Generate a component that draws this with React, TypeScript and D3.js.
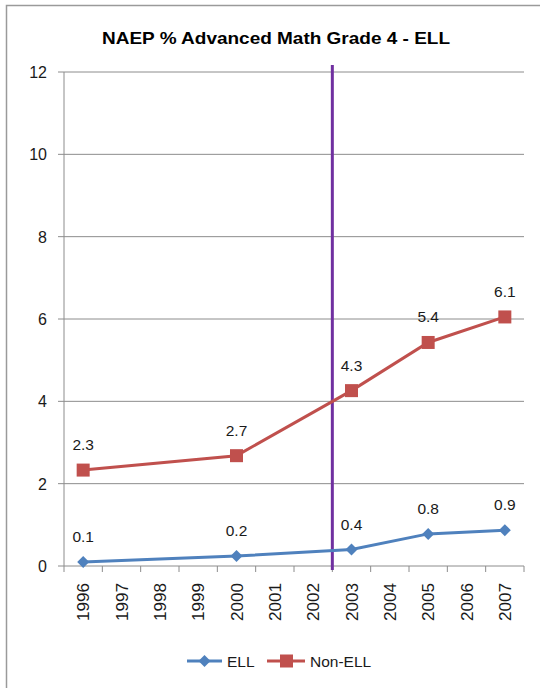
import React from "react";
import * as d3 from "d3";

const years = ["1996","1997","1998","1999","2000","2001","2002","2003","2004","2005","2006","2007"];
const ellYears = ["1996","2000","2003","2005","2007"];
const ellValues = [0.1, 0.24, 0.4, 0.78, 0.87];
const nonEllValues = [2.33, 2.68, 4.26, 5.43, 6.05];
const ellLabels = ["0.1", "0.2", "0.4", "0.8", "0.9"];
const nonEllLabels = ["2.3", "2.7", "4.3", "5.4", "6.1"];
const yTicks = [0, 2, 4, 6, 8, 10, 12];
const title = "NAEP % Advanced Math Grade 4 - ELL";
const markerYearBoundary = "2003";

const W = 540, H = 688;
const left = 64, right = 524, top = 72, bottom = 566;
const font = "'Liberation Sans', Arial, sans-serif";
const ellColor = "#4F81BD";
const nonColor = "#C0504D";
const textColor = "#1a1a1a";

export default function App() {
  const x = d3.scaleBand<string>().domain(years).range([left, right]);
  const y = d3.scaleLinear().domain([0, 12]).range([bottom, top]);
  const cx = (yr: string) => (x(yr) as number) + x.bandwidth() / 2;
  const line = d3.line<[string, number]>().x(d => cx(d[0])).y(d => y(d[1]));
  const ellData: [string, number][] = ellYears.map((yr, i) => [yr, ellValues[i]]);
  const nonData: [string, number][] = ellYears.map((yr, i) => [yr, nonEllValues[i]]);
  const boundaryX = x(markerYearBoundary) as number;
  const diamond = (px: number, py: number, r = 6) => `M${px},${py - r}L${px + r},${py}L${px},${py + r}L${px - r},${py}Z`;

  return (
    <svg width={W} height={H} style={{ position: "absolute", left: 0, top: 0, background: "#fff" }}>
      <rect x={6.5} y={5.5} width={W + 10} height={H + 10} fill="#fff" stroke="#9a9a9a" strokeWidth={1.5} />
      <text x={276} y={44} textAnchor="middle" fontFamily={font} fontWeight="bold" fontSize={17} fill="#000" textLength={348} lengthAdjust="spacingAndGlyphs">{title}</text>
      {yTicks.map(t => (
        <g key={t}>
          <line x1={left} x2={right} y1={y(t)} y2={y(t)} stroke="#8c8c8c" strokeWidth={1} />
          <line x1={left - 6} x2={left} y1={y(t)} y2={y(t)} stroke="#8c8c8c" strokeWidth={1} />
          <text x={47} y={y(t) + 6} textAnchor="end" fontFamily={font} fontSize={16} fill={textColor}>{t}</text>
        </g>
      ))}
      <line x1={left} x2={left} y1={top} y2={bottom} stroke="#8c8c8c" strokeWidth={1} />
      {years.map(yr => (
        <line key={"t" + yr} x1={(x(yr) as number)} x2={(x(yr) as number)} y1={bottom} y2={bottom + 6} stroke="#8c8c8c" />
      ))}
      <line x1={right} x2={right} y1={bottom} y2={bottom + 6} stroke="#8c8c8c" />
      {years.map(yr => (
        <text key={yr} transform={`translate(${cx(yr) + 6},${bottom + 17}) rotate(-90)`} textAnchor="end" fontFamily={font} fontSize={16} fill={textColor} textLength={38} lengthAdjust="spacingAndGlyphs">{yr}</text>
      ))}
      <line x1={boundaryX} x2={boundaryX} y1={65} y2={570} stroke="#7030A0" strokeWidth={3} />
      <path d={line(nonData) as string} fill="none" stroke={nonColor} strokeWidth={3} />
      <path d={line(ellData) as string} fill="none" stroke={ellColor} strokeWidth={3} />
      {nonData.map((d, i) => (
        <g key={"n" + d[0]}>
          <rect x={cx(d[0]) - 6.5} y={y(d[1]) - 6.5} width={13} height={13} fill={nonColor} />
          <text x={cx(d[0])} y={y(d[1]) - 20} textAnchor="middle" fontFamily={font} fontSize={15.5} fill={textColor}>{nonEllLabels[i]}</text>
        </g>
      ))}
      {ellData.map((d, i) => (
        <g key={"e" + d[0]}>
          <path d={diamond(cx(d[0]), y(d[1]))} fill={ellColor} />
          <text x={cx(d[0])} y={y(d[1]) - 20} textAnchor="middle" fontFamily={font} fontSize={15.5} fill={textColor}>{ellLabels[i]}</text>
        </g>
      ))}
      <g>
        <line x1={187} x2={222} y1={661} y2={661} stroke={ellColor} strokeWidth={3} />
        <path d={diamond(204.5, 661)} fill={ellColor} />
        <text x={227} y={667} fontFamily={font} fontSize={15.5} fill={textColor}>ELL</text>
        <line x1={267} x2={305} y1={661} y2={661} stroke={nonColor} strokeWidth={3} />
        <rect x={280} y={654.5} width={13} height={13} fill={nonColor} />
        <text x={310} y={667} fontFamily={font} fontSize={15.5} fill={textColor}>Non-ELL</text>
      </g>
    </svg>
  );
}
